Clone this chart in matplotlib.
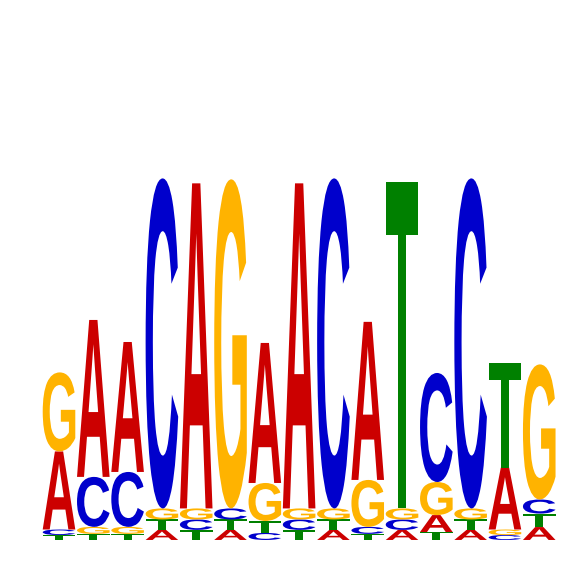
import numpy as np
import matplotlib
matplotlib.use("Agg")
import matplotlib.pyplot as plt
from matplotlib.textpath import TextPath
from matplotlib.font_manager import FontProperties
from matplotlib.patches import PathPatch
from matplotlib.transforms import Affine2D

# letter heights (bits) per position, 15 positions
positions = np.arange(1, 16)
A = [0.411, 0.826, 0.684, 0.053, 1.711, 0.053, 0.737, 1.711, 0.053, 0.832, 0.053, 0.089, 0.053, 0.326, 0.068]
C = [0.029, 0.263, 0.289, 1.737, 0.055, 0.058, 0.037, 0.055, 1.737, 0.037, 0.055, 0.574, 1.737, 0.026, 0.074]
G = [0.416, 0.037, 0.037, 0.058, 0.058, 1.732, 0.200, 0.058, 0.058, 0.247, 0.058, 0.174, 0.058, 0.029, 0.711]
T = [0.026, 0.032, 0.032, 0.055, 0.053, 0.055, 0.063, 0.053, 0.055, 0.032, 1.716, 0.042, 0.055, 0.553, 0.071]

heights = {"A": A, "C": C, "G": G, "T": T}
colors = {"A": "#CC0000", "C": "#0000CC", "G": "#FFB300", "T": "#008000"}

fp = FontProperties(family="Liberation Sans", weight="bold")
glyphs = {}
for base in "ACGT":
    p = TextPath((0, 0), base, size=1, prop=fp)
    glyphs[base] = (p, p.get_extents())


def draw_letter(ax, base, x, y, w, h):
    p, bb = glyphs[base]
    tr = (Affine2D()
          .translate(-bb.x0, -bb.y0)
          .scale(w / bb.width, h / bb.height)
          .translate(x - w / 2, y))
    ax.add_patch(PathPatch(tr.transform_path(p), facecolor=colors[base],
                           edgecolor="none"))


fig = plt.figure(figsize=(5.66, 5.66), dpi=100)
ax = fig.add_axes([0, 0, 1, 1])

for i, x in enumerate(positions):
    stack = sorted("ACGT", key=lambda b: heights[b][i])
    y = 0.0
    for b in stack:
        h = heights[b][i]
        draw_letter(ax, b, x, y, 0.95, h)
        y += h

ax.set_xlim(-0.72, 15.78)
ax.set_ylim(-0.137, 2.842)
ax.axis("off")

fig.savefig("out.png", dpi=100)
